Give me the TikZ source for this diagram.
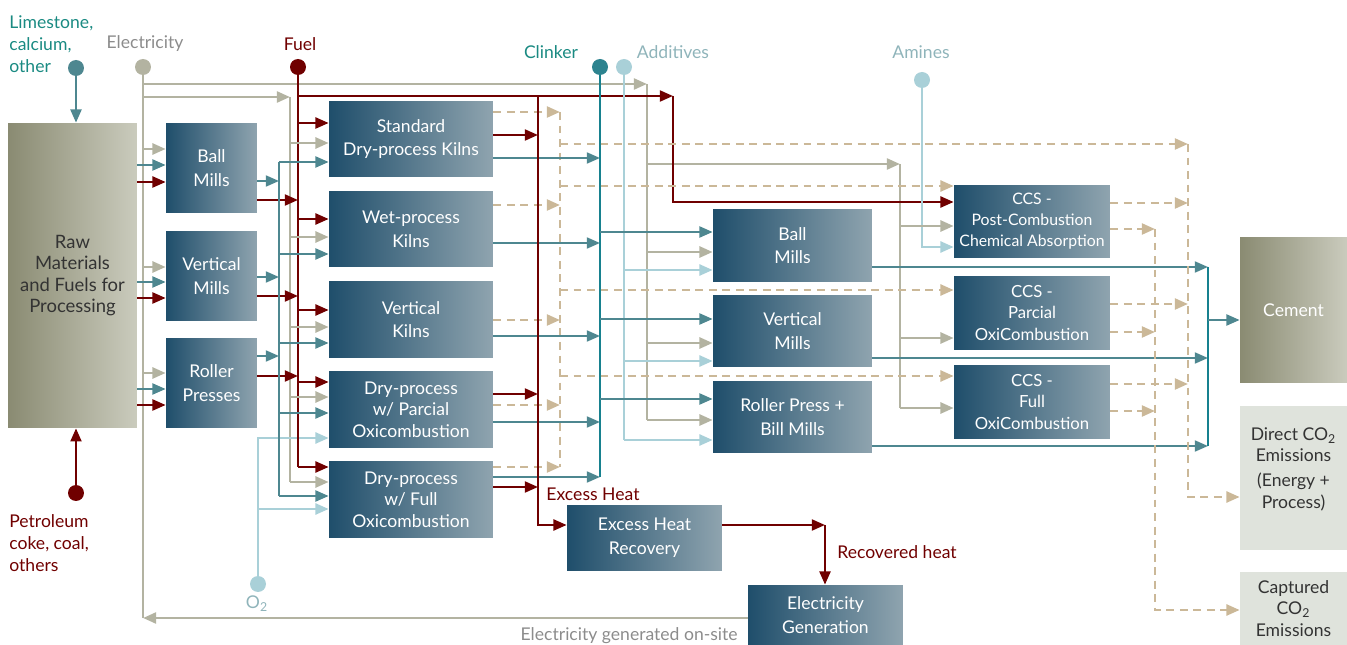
\documentclass[tikz,border=0pt]{standalone}
\usepackage{fontspec}
\setmainfont{Lato}
\usetikzlibrary{arrows.meta}
\definecolor{fuelred}{HTML}{700000}
\definecolor{matteal}{HTML}{4E8790}
\definecolor{clinkteal}{HTML}{17818F}
\definecolor{elecgray}{HTML}{B3B3A1}
\definecolor{addblue}{HTML}{A9D0D8}
\definecolor{co2tan}{HTML}{CBB898}
\definecolor{boxdark}{HTML}{1F4E6B}
\definecolor{boxlight}{HTML}{8FA4AF}
\definecolor{rawdark}{HTML}{8A8B72}
\definecolor{rawlight}{HTML}{CACBBD}
\definecolor{outfill}{HTML}{DFE3DC}
\definecolor{txtdark}{HTML}{333333}
\definecolor{limetxt}{HTML}{1A8A82}
\definecolor{addtxt}{HTML}{8FB4BA}
\definecolor{electxt}{HTML}{8C8C8C}

\tikzset{
  txt/.style={font=\fontsize{10}{13.5}\selectfont, inner sep=0pt},
  three/.style={font=\fontsize{10}{12.2}\selectfont},
  ccs/.style={font=\fontsize{9.5}{12}\selectfont},
  proc/.style={txt, rectangle, left color=boxdark, right color=boxlight, text=white, align=center},
  rawbox/.style={txt, rectangle, left color=rawdark, right color=rawlight, text=txtdark, align=center},
  outbox/.style={txt, rectangle, fill=outfill, text=txtdark, align=center},
  dot/.style={circle, minimum size=0.32cm, inner sep=0pt},
  lbl/.style={font=\fontsize{10}{12.4}\selectfont, inner sep=0pt, align=left},
  arr/.style={-{Triangle[length=7.5pt,width=6.2pt]}},
  redln/.style={draw=fuelred, line width=1.4pt},
  tealln/.style={draw=matteal, line width=1.3pt},
  clinkln/.style={draw=clinkteal, line width=1.3pt},
  grayln/.style={draw=elecgray, line width=1.6pt},
  blueln/.style={draw=addblue, line width=1.5pt},
  tanln/.style={draw=co2tan, line width=1.5pt, dash pattern=on 4.5pt off 3.2pt},
}

\begin{document}
\begin{tikzpicture}[x=0.02cm,y=-0.02cm]
	%%%%% START %%%%%
	\useasboundingbox (0,0) rectangle (1347,645);

	% boxes
	\node[rawbox, font=\fontsize{10.5}{12.2}\selectfont, minimum width=2.58cm, minimum height=6.1cm] (raw) at (72.5,275.5) {Raw\\Materials\\and Fuels for\\Processing};

	\node[proc, minimum width=1.82cm, minimum height=1.8cm] (ball1) at (211.5,168) {Ball\\Mills};
	\node[proc, minimum width=1.82cm, minimum height=1.8cm] (vert1) at (211.5,276) {Vertical\\Mills};
	\node[proc, minimum width=1.82cm, minimum height=1.8cm] (roll1) at (211.5,383) {Roller\\Presses};

	\node[proc, minimum width=3.28cm, minimum height=1.52cm] (kstd) at (411,139) {Standard\\Dry-process Kilns};
	\node[proc, minimum width=3.28cm, minimum height=1.52cm] (kwet) at (411,229) {Wet-process\\Kilns};
	\node[proc, minimum width=3.28cm, minimum height=1.54cm] (kvert) at (411,319.5) {Vertical\\Kilns};
	\node[proc, three, minimum width=3.28cm, minimum height=1.54cm] (kdryp) at (411,409.5) {Dry-process\\w/ Parcial\\Oxicombustion};
	\node[proc, three, minimum width=3.28cm, minimum height=1.54cm] (kdryf) at (411,499.5) {Dry-process\\w/ Full\\Oxicombustion};

	\node[proc, minimum width=3.18cm, minimum height=1.46cm] (ball2) at (792.5,245.5) {Ball\\Mills};
	\node[proc, minimum width=3.18cm, minimum height=1.44cm] (vert2) at (792.5,331) {Vertical\\Mills};
	\node[proc, minimum width=3.18cm, minimum height=1.44cm] (roll2) at (792.5,417) {Roller Press +\\Bill Mills};

	\node[proc, font=\fontsize{9}{12}\selectfont, minimum width=3.12cm, minimum height=1.46cm] (ccspost) at (1032,221.5) {CCS -\\Post-Combustion\\Chemical Absorption};
	\node[proc, ccs, minimum width=3.12cm, minimum height=1.48cm] (ccsparc) at (1032,313) {CCS -\\Parcial\\OxiCombustion};
	\node[proc, ccs, minimum width=3.12cm, minimum height=1.48cm] (ccsfull) at (1032,402) {CCS -\\Full\\OxiCombustion};

	\node[proc, minimum width=3.1cm, minimum height=1.32cm] (exheat) at (644.5,538) {Excess Heat\\Recovery};
	\node[proc, minimum width=3.1cm, minimum height=1.2cm] (elecgen) at (825.5,615) {Electricity\\Generation};

	\node[rawbox, text=white, minimum width=2.14cm, minimum height=2.92cm] (cement) at (1293.5,310) {Cement};
	\node[outbox, minimum width=2.14cm, minimum height=2.88cm] (direct) at (1293.5,478) {};
	\node[txt, three, text=txtdark, align=center] (directtxt) at (1293.5,469) {Direct CO\textsubscript{2}\\Emissions\\[2pt](Energy +\\Process)};
	\node[outbox, three, minimum width=2.14cm, minimum height=1.46cm] (captured) at (1293.5,608.5) {Captured\\CO\textsubscript{2}\\Emissions};

	% source dots and labels
	\node[dot, fill=matteal] (limedot) at (76,68) {};
	\node[dot, fill=elecgray] (elecdot) at (143,67) {};
	\node[dot, fill=fuelred] (fueldot) at (298,67) {};
	\node[dot, fill=clinkteal!60!matteal] (clinkdot) at (600,67) {};
	\node[dot, fill=addblue] (adddot) at (624,67) {};
	\node[dot, fill=addblue] (aminedot) at (922,80) {};
	\node[dot, fill=fuelred] (petdot) at (76,493) {};
	\node[dot, fill=addblue] (oxdot) at (258,584) {};

	\node[lbl, text=limetxt, anchor=west] (limelbl) at (9,44) {Limestone,\\calcium,\\other};
	\node[lbl, text=electxt] (eleclbl) at (145,44) {Electricity};
	\node[lbl, text=fuelred] (fuellbl) at (300,44) {Fuel};
	\node[lbl, text=limetxt] (clinklbl) at (551,52) {Clinker};
	\node[lbl, text=addtxt] (addlbl) at (673,52) {Additives};
	\node[lbl, text=addtxt] (aminelbl) at (921,52) {Amines};
	\node[lbl, text=fuelred, anchor=west] (petlbl) at (9,543) {Petroleum\\coke, coal,\\others};
	\node[lbl, text=addtxt] (oxlbl) at (257,604) {O\textsubscript{2}};
	\node[lbl, text=fuelred] (exlbl) at (593,494) {Excess Heat};
	\node[lbl, text=fuelred] (reclbl) at (897,552) {Recovered heat};
	\node[lbl, text=electxt, anchor=east] (sitelbl) at (738,636) {Electricity generated on-site};

	% electricity
	\draw[grayln] (elecdot) -- (143,618);
	\draw[grayln,arr] (143,84) -- (647,84);
	\draw[grayln] (647,84) -- (647,420);
	\draw[grayln,arr] (143,97) -- (290,97);
	\draw[grayln] (290,97) -- (290,482);
	\draw[grayln,arr] (647,164) -- (900,164);
	\draw[grayln] (900,164) -- (900,408);
	\draw[grayln,arr] (elecgen.west |- 0,618) -- (143,618);
	\foreach \m/\g in {ball1/149, vert1/267, roll1/373}
		\draw[grayln,arr] (143,\g) -- (\m.west |- 0,\g);

	% raw materials and fuel into the mills
	\draw[tealln,arr] (limedot) -- (raw.north -| limedot);
	\draw[redln,arr] (petdot) -- (raw.south -| petdot);
	\foreach \m/\t/\r in {ball1/165/182, vert1/282/298, roll1/389/405} {
		\draw[tealln,arr] (raw.east |- 0,\t) -- (\m.west |- 0,\t);
		\draw[redln,arr] (raw.east |- 0,\r) -- (\m.west |- 0,\r);
	}
	\foreach \m/\t/\r in {ball1/181/200, vert1/277/296, roll1/356/376} {
		\draw[tealln,arr] (\m.east |- 0,\t) -- (279,\t);
		\draw[redln,arr] (\m.east |- 0,\r) -- (298,\r);
	}

	% O2
	\draw[blueln,arr] (oxdot) -- (258,438) -- (kdryp.west |- 0,438);
	\draw[blueln,arr] (258,509) -- (kdryf.west |- 0,509);

	% kilns
	\draw[tealln] (279,162) -- (279,496);
	\draw[redln] (fueldot) -- (298,467);
	\foreach \k/\r/\g/\t in {kstd/123/143/162, kwet/219/237/254, kvert/310/327/343, kdryp/382/397/413, kdryf/467/482/496} {
		\draw[grayln,arr] (290,\g) -- (\k.west |- 0,\g);
		\draw[tealln,arr] (279,\t) -- (\k.west |- 0,\t);
		\draw[redln,arr] (298,\r) -- (\k.west |- 0,\r);
	}
	\draw[tanln] (560,112) -- (560,467);
	\foreach \k/\d/\t in {kstd/112/158, kwet/205/243, kvert/320/336, kdryp/405/422, kdryf/467/477} {
		\draw[tanln,arr] (\k.east |- 0,\d) -- (560,\d);
		\draw[tealln,arr] (\k.east |- 0,\t) -- (600,\t);
	}

	% excess heat
	\draw[redln,arr] (298,96) -- (673,96);
	\draw[redln,arr] (673,96) -- (673,202) -- (ccspost.west |- 0,202);
	\draw[redln,arr] (538,96) -- (538,525) -- (exheat.west |- 0,525);
	\foreach \k/\r in {kstd/135, kdryp/394, kdryf/487}
		\draw[redln,arr] (\k.east |- 0,\r) -- (538,\r);
	\draw[redln,arr] (exheat.east |- 0,525) -- (825,525);
	\draw[redln,arr] (825,525) -- (elecgen.north -| 825,0);

	% cement mills
	\draw[clinkln] (clinkdot) -- (600,477);
	\draw[blueln] (adddot) -- (624,440);
	\foreach \m/\t/\g/\b in {ball2/232/252/270, vert2/319/343/361, roll2/399/420/440} {
		\draw[tealln,arr] (600,\t) -- (\m.west |- 0,\t);
		\draw[grayln,arr] (647,\g) -- (\m.west |- 0,\g);
		\draw[blueln,arr] (624,\b) -- (\m.west |- 0,\b);
	}
	\foreach \m/\t in {ball2/267, vert2/358, roll2/446}
		\draw[tealln,arr] (\m.east |- 0,\t) -- (1208,\t);
	\draw[clinkln] (1208,267) -- (1208,446);
	\draw[tealln,arr] (1208,320) -- (cement.west |- 0,320);

	% CCS
	\draw[blueln,arr] (aminedot) -- (922,247) -- (ccspost.west |- 0,247);
	\foreach \c/\d/\g in {ccspost/186/226, ccsparc/290/338, ccsfull/376/408} {
		\draw[tanln,arr] (560,\d) -- (\c.west |- 0,\d);
		\draw[grayln,arr] (900,\g) -- (\c.west |- 0,\g);
	}
	\foreach \c/\a/\b in {ccspost/203/229, ccsparc/304/332, ccsfull/384/411} {
		\draw[tanln,arr] (\c.east |- 0,\a) -- (1188,\a);
		\draw[tanln,arr] (\c.east |- 0,\b) -- (1155,\b);
	}

	% CO2
	\draw[tanln,arr] (560,144) -- (1188,144);
	\draw[tanln,arr] (1188,144) -- (1188,497) -- (direct.west |- 0,497);
	\draw[tanln,arr] (1155,229) -- (1155,610) -- (captured.west |- 0,610);

	%%%%% END %%%%%
\end{tikzpicture}
\end{document}
